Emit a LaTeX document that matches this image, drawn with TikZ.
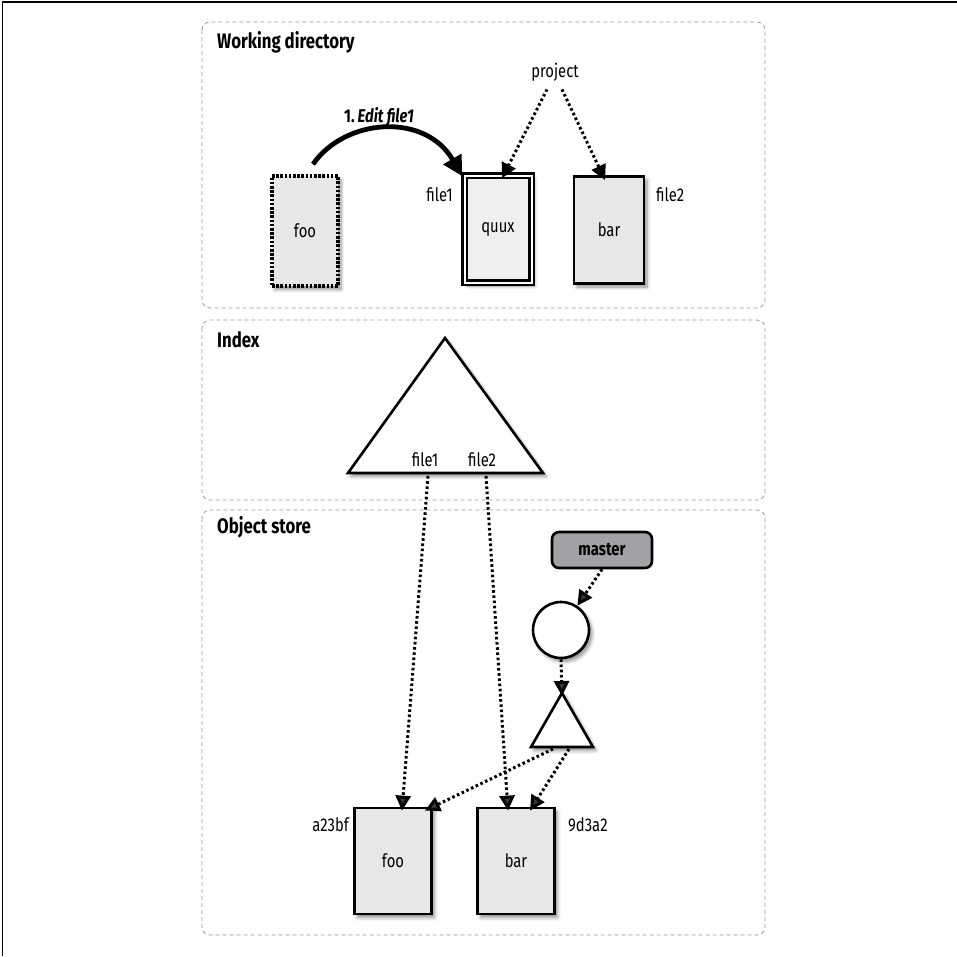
\documentclass[tikz,border=0pt]{standalone}
\usepackage{fontspec}
\setmainfont{Fira Sans}[FakeStretch=0.8]
\usetikzlibrary{arrows.meta,shadows.blur,calc}
\definecolor{boxfill}{HTML}{E6E7E8}
\definecolor{quuxfill}{HTML}{EEEFF0}
\definecolor{masterfill}{HTML}{A0A2A5}
\definecolor{panelline}{HTML}{9A9A9A}
\begin{document}
\begin{tikzpicture}[x=1pt,y=-1pt,
  every node/.style={font=\fontsize{18.5}{20}\selectfont},
  sh/.style={blur shadow={shadow xshift=3pt,shadow yshift=-3.5pt,shadow blur radius=3.5pt,shadow blur steps=6,shadow opacity=45}},
  panel/.style={draw=panelline,dashed,dash pattern=on 4pt off 3pt,line width=0.8pt,rounded corners=8pt},
  ptitle/.style={anchor=west,inner sep=0pt,font=\fontsize{21}{24}\selectfont\bfseries},
  filebox/.style={draw=black,line width=2.8pt,fill=boxfill,sh,inner sep=0pt},
  dotbox/.style={filebox,dash pattern=on 2.6pt off 1.6pt,line width=3.6pt},
  quuxbox/.style={draw=black,fill=quuxfill,sh,line width=2.4pt,double=white,double distance=2pt,inner sep=0pt},
  dotarrow/.style={line width=3pt,dash pattern=on 2.6pt off 2.6pt,-{Triangle[length=15pt,width=15pt]}},
  bigarrow/.style={line width=4.8pt,-{Triangle[length=20pt,width=20pt]}},
  lbl/.style={inner sep=0pt}
]
\useasboundingbox (0,0) rectangle (957,956);
% outer frame
\draw[line width=1.5pt] (957,2) -- (2.5,2) -- (2.5,956);
% panels
\draw[panel] (202,22) rectangle (765,308);
\draw[panel] (202,320) rectangle (765,500);
\draw[panel] (202,510) rectangle (765,935);
\node[ptitle] (t1) at (217,42) {Working directory};
\node[ptitle] (t2) at (217,340) {Index};
\node[ptitle] (t3) at (217,527) {Object store};

% working directory
\node[dotbox,minimum width=66pt,minimum height=110pt] (wdfoo) at (305,231) {foo};
\node[quuxbox,minimum width=67pt,minimum height=107pt] (quux) at (498,229) {quux};
\node[filebox,minimum width=70pt,minimum height=107pt] (wdbar) at (609,230) {bar};
\node[lbl,anchor=east] (lf1) at (453,195) {file1};
\node[lbl,anchor=west] (lf2) at (656,195) {file2};
\node[lbl] (project) at (555,72) {project};
\draw[dotarrow] ([xshift=-8pt,yshift=-8pt]project.south) -- ([xshift=4pt,yshift=-4pt]quux.north);
\draw[dotarrow] ([xshift=7pt,yshift=-8pt]project.south) -- ([xshift=-4pt,yshift=-5pt]wdbar.north);
\draw[bigarrow] ([xshift=8pt,yshift=10pt]wdfoo.north) .. controls (345,118) and (425,112) .. ([xshift=-1pt,yshift=-2pt]quux.north west);
\node[lbl] (edit) at (379,117) {\textbf{1.}\,\textbf{\textit{Edit file1}}};

% index
\coordinate (iapex) at (445,338);
\coordinate (ibl) at (348,473);
\coordinate (ibr) at (543,473);
\draw[line width=2.6pt,fill=white,sh,line join=miter] (iapex) -- (ibr) -- (ibl) -- cycle;
\node[lbl] (if1) at (425,460) {file1};
\node[lbl] (if2) at (482,460) {file2};
\coordinate (f1) at (428,476);
\coordinate (f2) at (486,476);

% object store
\node[filebox,minimum width=77pt,minimum height=106pt] (osfoo) at (393,861) {foo};
\node[filebox,minimum width=77pt,minimum height=106pt] (osbar) at (516,861) {bar};
\node[lbl,anchor=east] (ha) at (349,825) {a23bf};
\node[lbl,anchor=west] (hb) at (568,825) {9d3a2};
\node[draw=black,line width=2.6pt,fill=masterfill,rounded corners=7pt,minimum width=100pt,minimum height=36pt,inner sep=0pt,font=\fontsize{18.5}{20}\selectfont\bfseries] (master) at (602,550) {master};
\node[circle,draw=black,line width=2.6pt,fill=white,sh,minimum size=56pt,inner sep=0pt] (commit) at (561,630) {};
\coordinate (tapex) at (562,693);
\coordinate (tbl) at (531,747);
\coordinate (tbr) at (593,747);
\draw[line width=2.6pt,fill=white,sh,line join=miter] (tapex) -- (tbr) -- (tbl) -- cycle;
\coordinate (t1s) at (553,749);
\coordinate (t2s) at (569,749);

\draw[dotarrow] (master.south) -- (commit);
\draw[dotarrow] (commit.south) -- ([yshift=-3pt]tapex);
\draw[dotarrow] (f1) -- ([xshift=9pt,yshift=-4pt]osfoo.north);
\draw[dotarrow] (f2) -- ([xshift=-8pt,yshift=-4pt]osbar.north);
\draw[dotarrow] (t1s) -- ([xshift=32pt,yshift=-4pt]osfoo.north);
\draw[dotarrow] (t2s) -- ([xshift=14pt,yshift=-4pt]osbar.north);
\end{tikzpicture}
\end{document}
